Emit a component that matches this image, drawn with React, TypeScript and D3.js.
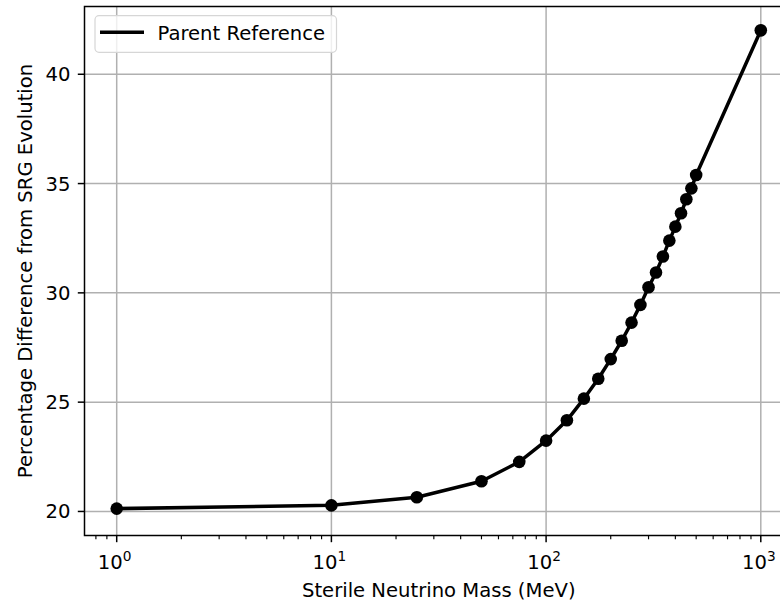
import React from "react";
import * as d3 from "d3";

// Sterile neutrino mass (MeV) and percentage difference from SRG evolution
const masses = [1, 10, 25, 50, 75, 100, 125, 150, 175, 200, 225, 250, 275, 300, 325, 350, 375, 400, 425, 450, 475, 500, 1000];
const pctDiff = [20.13, 20.28, 20.65, 21.38, 22.27, 23.24, 24.17, 25.16, 26.07, 26.97, 27.81, 28.64, 29.45, 30.26, 30.93, 31.66, 32.39, 33.03, 33.64, 34.28, 34.78, 35.39, 42.01];

const xMajorTicks = [1, 10, 100, 1000];
const xTickExponents = ["0", "1", "2", "3"];
const yTicks = [20, 25, 30, 35, 40];
const xDomain: [number, number] = [Math.pow(10, -0.15), Math.pow(10, 3.15)];
const yDomain: [number, number] = [18.9, 43.1];

const seriesLabel = "Parent Reference";
const xLabel = "Sterile Neutrino Mass (MeV)";
const yLabel = "Percentage Difference from SRG Evolution";

const W = 780;
const H = 601;
const plot = { left: 84.5, right: 793, top: 6.5, bottom: 535.5 };
const FONT = "'DejaVu Sans', sans-serif";
const FS = 19.6;

export default function App() {
  const x = d3.scaleLog().domain(xDomain).range([plot.left, plot.right]);
  const y = d3.scaleLinear().domain(yDomain).range([plot.bottom, plot.top]);

  // minor ticks: 2..9 within each decade inside the domain
  const minorTicks: number[] = [];
  for (let e = -1; e <= 3; e++) {
    for (let m = 2; m <= 9; m++) {
      const v = m * Math.pow(10, e);
      if (v >= xDomain[0] && v <= xDomain[1]) minorTicks.push(v);
    }
  }

  const line = d3
    .line<number>()
    .x((_, i) => x(masses[i]))
    .y((d) => y(d));

  return (
    <svg
      width={W}
      height={H}
      style={{ position: "absolute", left: 0, top: 0, background: "#fff" }}
      fontFamily={FONT}
    >
      <rect x={0} y={0} width={W} height={H} fill="#fff" />
      {/* grid */}
      <g stroke="#b0b0b0" strokeWidth={1.5}>
        {xMajorTicks.map((t) => (
          <line key={"gx" + t} x1={x(t)} x2={x(t)} y1={plot.top} y2={plot.bottom} />
        ))}
        {yTicks.map((t) => (
          <line key={"gy" + t} x1={plot.left} x2={plot.right} y1={y(t)} y2={y(t)} />
        ))}
      </g>

      {/* series */}
      <path d={line(pctDiff) || ""} fill="none" stroke="#000" strokeWidth={3.5} strokeLinejoin="round" strokeLinecap="square" />
      {pctDiff.map((v, i) => (
        <circle key={"p" + i} cx={x(masses[i])} cy={y(v)} r={6.3} fill="#000" />
      ))}

      {/* spines */}
      <rect
        x={plot.left}
        y={plot.top}
        width={plot.right - plot.left}
        height={plot.bottom - plot.top}
        fill="none"
        stroke="#000"
        strokeWidth={1.5}
      />

      {/* ticks */}
      <g stroke="#000">
        {xMajorTicks.map((t) => (
          <line key={"xt" + t} x1={x(t)} x2={x(t)} y1={plot.bottom} y2={plot.bottom + 6.7} strokeWidth={1.5} />
        ))}
        {minorTicks.map((t) => (
          <line key={"xm" + t} x1={x(t)} x2={x(t)} y1={plot.bottom} y2={plot.bottom + 3.8} strokeWidth={1.15} />
        ))}
        {yTicks.map((t) => (
          <line key={"yt" + t} x1={plot.left - 6.7} x2={plot.left} y1={y(t)} y2={y(t)} strokeWidth={1.5} />
        ))}
      </g>

      <g fontSize={FS} fill="#000">
        {xMajorTicks.map((t, i) => (
          <text key={"xl" + t} x={x(t) - 2} y={569} textAnchor="middle">
            10
            <tspan fontSize={FS * 0.7} dy={-8}>
              {xTickExponents[i]}
            </tspan>
          </text>
        ))}
        {yTicks.map((t) => (
          <text key={"yl" + t} x={70.5} y={y(t) + 7} textAnchor="end">
            {t}
          </text>
        ))}
        <text x={(plot.left + plot.right) / 2} y={597} textAnchor="middle">
          {xLabel}
        </text>
        <text
          transform={`translate(31.5,${(plot.top + plot.bottom) / 2}) rotate(-90)`}
          textAnchor="middle"
        >
          {yLabel}
        </text>
      </g>

      {/* legend */}
      <g>
        <rect x={95} y={15.7} width={241.5} height={36.6} rx={4} fill="#fff" fillOpacity={0.8} stroke="#d6d6d6" strokeWidth={1.2} />
        <line x1={100} x2={144} y1={32.3} y2={32.3} stroke="#000" strokeWidth={3.5} />
        <text x={157.5} y={39.5} fontSize={FS} fill="#000">
          {seriesLabel}
        </text>
      </g>
    </svg>
  );
}
